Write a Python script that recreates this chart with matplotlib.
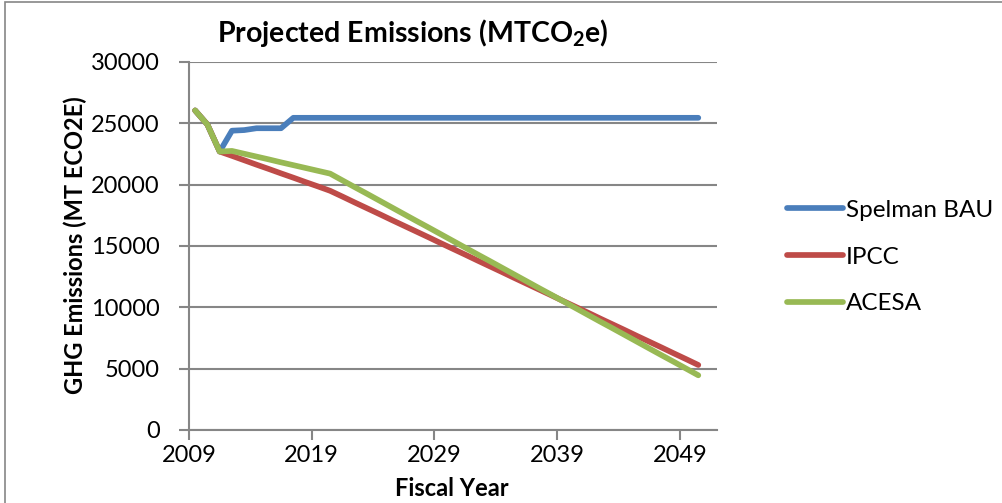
import matplotlib
matplotlib.use("Agg")
import matplotlib.pyplot as plt
from matplotlib.patches import Rectangle

plt.rcParams['font.family'] = ['Lato', 'DejaVu Sans']
plt.rcParams['mathtext.fontset'] = 'custom'
plt.rcParams['mathtext.rm'] = 'Lato'
plt.rcParams['mathtext.bf'] = 'Lato:bold'
plt.rcParams['mathtext.default'] = 'bf'

years = list(range(2009, 2051))
spelman_bau = [26050, 24900, 22700, 24400, 24450, 24600, 24600, 24600, 25450, 25450,
               25450, 25450, 25450, 25450, 25450, 25450, 25450, 25450, 25450, 25450,
               25450, 25450, 25450, 25450, 25450, 25450, 25450, 25450, 25450, 25450,
               25450, 25450, 25450, 25450, 25450, 25450, 25450, 25450, 25450, 25450,
               25450, 25450]
ipcc = [26050, 24900, 22700, 22350, 21990, 21630, 21280, 20920, 20570, 20210,
        19860, 19500, 19030, 18550, 18080, 17610, 17130, 16660, 16190, 15720,
        15240, 14770, 14300, 13820, 13350, 12880, 12400, 11930, 11460, 10990,
        10510, 10040, 9570, 9090, 8620, 8150, 7670, 7200, 6730, 6250,
        5780, 5300]
acesa = [26050, 24900, 22700, 22750, 22520, 22290, 22060, 21820, 21590, 21360,
         21130, 20900, 20350, 19800, 19260, 18710, 18160, 17610, 17060, 16520,
         15970, 15420, 14870, 14320, 13780, 13230, 12680, 12130, 11580, 11040,
         10490, 9940, 9390, 8840, 8300, 7750, 7200, 6650, 6100, 5560,
         5010, 4460]
series_names = ["Spelman BAU", "IPCC", "ACESA"]
series_colors = ["#4A7EBB", "#BE4B48", "#98B954"]
x_tick_labels = ["2009", "2019", "2029", "2039", "2049"]
y_ticks = [0, 5000, 10000, 15000, 20000, 25000, 30000]

W, H = 1003, 503
fig = plt.figure(figsize=(W / 100, H / 100), dpi=100)
fig.patch.set_facecolor('white')
fig.patches.append(Rectangle((5 / W, -0.05), 1.2, 1.05 - 2 / H, transform=fig.transFigure,
                             fill=False, edgecolor='#868686', linewidth=1.2))

ax = fig.add_axes([189 / W, (H - 430) / H, (716.7 - 189) / W, 368 / H])
grid_c = '#868686'
xs = list(range(len(years)))
for vals, name, col in zip([spelman_bau, ipcc, acesa], series_names, series_colors):
    ax.plot(xs, vals, color=col, lw=4.1, label=name, solid_capstyle='round',
            solid_joinstyle='round', zorder=3)

ax.set_xlim(-0.5, len(years) + 0.5)
ax.set_ylim(0, 30000)
ax.set_yticks(y_ticks)
ax.set_yticklabels([str(v) for v in y_ticks], fontsize=17)
tick_pos = [years.index(int(t)) - 0.5 for t in x_tick_labels]
ax.set_xticks(tick_pos)
ax.set_xticklabels(x_tick_labels, fontsize=17)
ax.grid(axis='y', color=grid_c, lw=1.5)
ax.set_axisbelow(True)
for s in ['top', 'right']:
    ax.spines[s].set_visible(False)
for s in ['left', 'bottom']:
    ax.spines[s].set_color(grid_c)
    ax.spines[s].set_linewidth(1.5)
ax.tick_params(axis='both', colors=grid_c, length=7, width=1.5, labelcolor='black')
ax.tick_params(axis='y', pad=14)
ax.tick_params(axis='x', pad=4)

fig.text(452 / W, 1 - 488 / H, "Fiscal Year", fontsize=17, fontweight='bold',
         ha='center', va='center')
fig.text(75 / W, 1 - 245 / H, "GHG Emissions (MT ECO2E)", fontsize=17,
         fontweight='bold', ha='center', va='center', rotation=90)

fig.text(413 / W, 1 - 33 / H, "Projected Emissions (MTCO$_{2}$e)", fontsize=20.5,
         fontweight='bold', ha='center', va='center')

leg = ax.legend(loc='center left', bbox_to_anchor=(765 / W, 1 - 257 / H),
                bbox_transform=fig.transFigure, frameon=False, fontsize=17.5,
                handlelength=2.3, handletextpad=0.12, labelspacing=1.05)

fig.savefig("out.png", dpi=100, facecolor='white')
